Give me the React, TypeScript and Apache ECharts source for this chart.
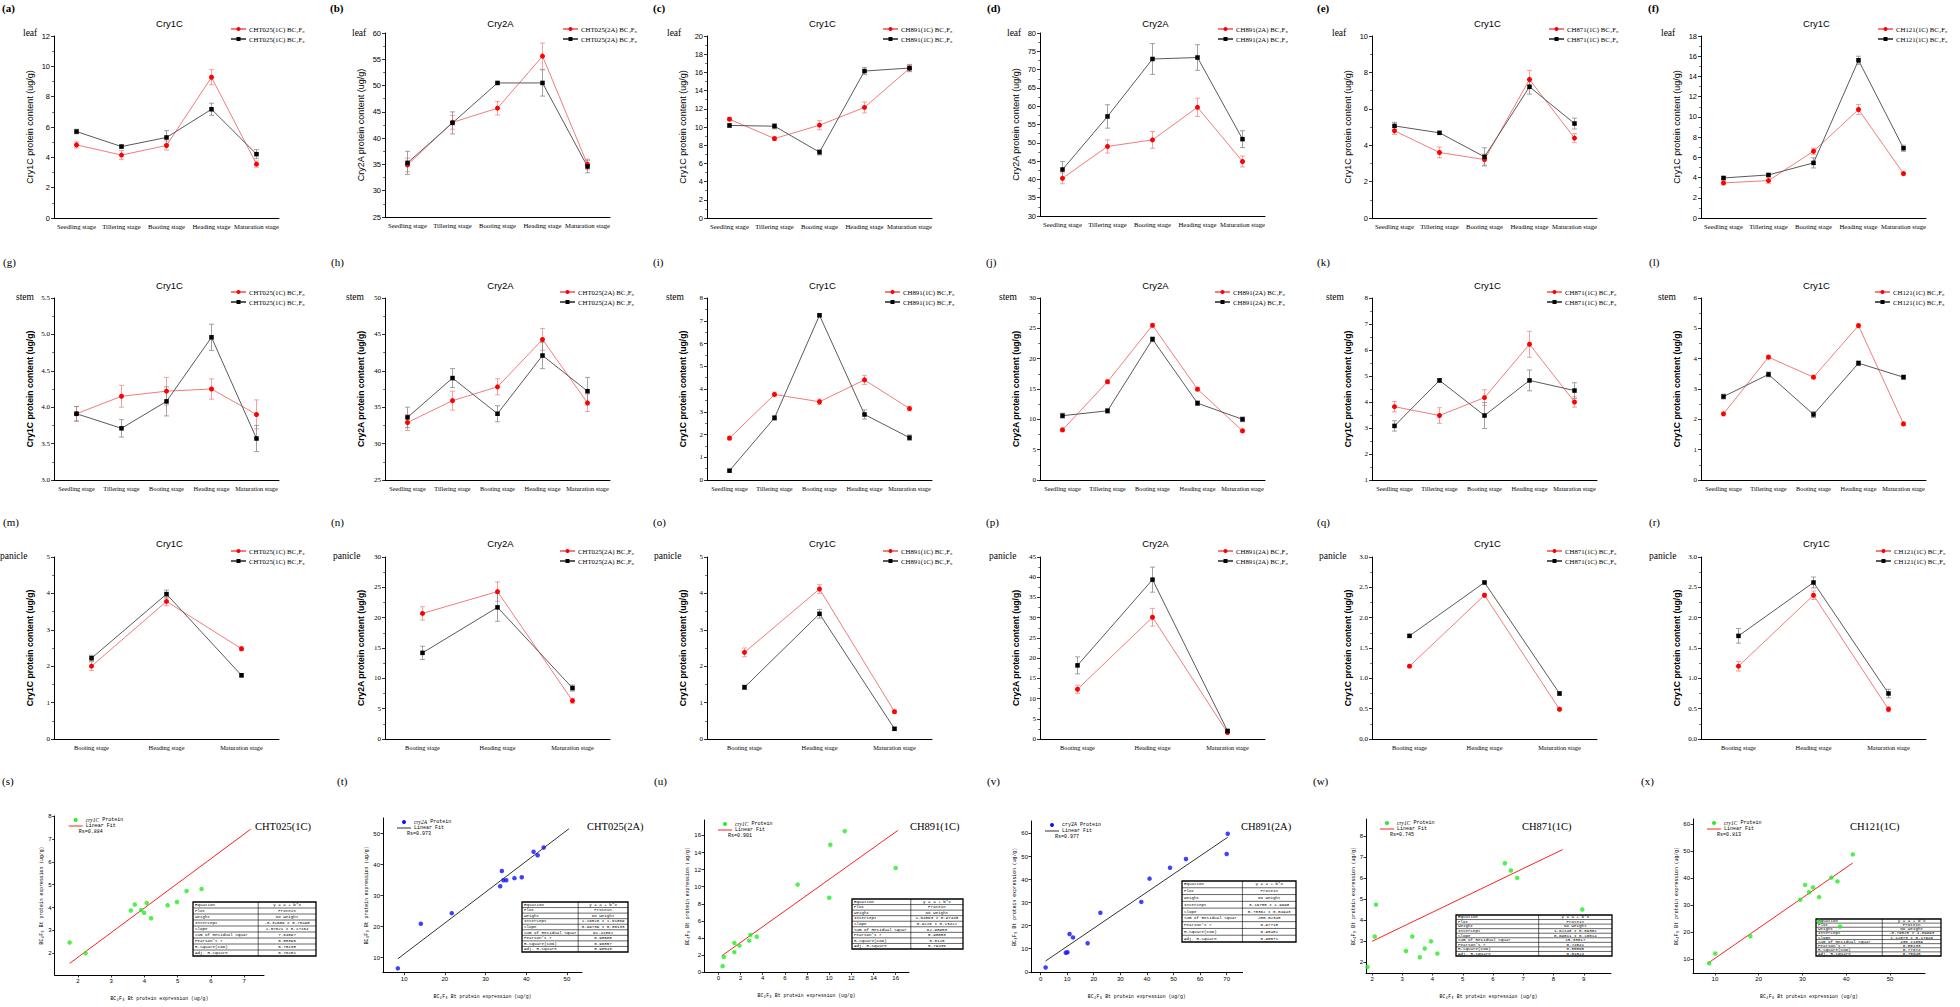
import React, { useEffect, useRef } from "react";
import * as echarts from "echarts";

const SERIF = '"Liberation Serif", "Times New Roman", serif';
const SANS = '"Liberation Sans", Arial, sans-serif';
const MONO = '"Liberation Mono", "DejaVu Sans Mono", monospace';

const stages5 = ["Seedling stage", "Tillering stage", "Booting stage", "Heading stage", "Maturation stage"];
const stages3 = ["Booting stage", "Heading stage", "Maturation stage"];

const lineCodes = ["CHT025(1C)", "CHT025(2A)", "CH891(1C)", "CH891(2A)", "CH871(1C)", "CH121(1C)"];
const lineGenes = ["Cry1C", "Cry2A", "Cry1C", "Cry2A", "Cry1C", "Cry1C"];
const organs = ["leaf", "stem", "panicle"];
const panelLetters = [
  ["a", "b", "c", "d", "e", "f"],
  ["g", "h", "i", "j", "k", "l"],
  ["m", "n", "o", "p", "q", "r"],
  ["s", "t", "u", "v", "w", "x"],
];

// ---- leaf (row 1) ----
const aRed = [4.82, 4.15, 4.78, 9.28, 3.55];
const aRedErr = [0.2, 0.3, 0.3, 0.5, 0.2];
const aBlack = [5.7, 4.71, 5.31, 7.17, 4.21];
const aBlackErr = [0.15, 0.1, 0.45, 0.4, 0.3];
const bRed = [34.9, 43.0, 45.7, 55.6, 35.0];
const bRedErr = [1.3, 1.3, 1.3, 2.5, 1.0];
const bBlack = [35.3, 42.9, 50.5, 50.5, 34.6];
const bBlackErr = [2.2, 2.1, 0.2, 2.5, 1.2];
const cRed = [10.86, 8.73, 10.2, 12.15, 16.44];
const cRedErr = [0.2, 0.2, 0.5, 0.6, 0.3];
const cBlack = [10.17, 10.09, 7.23, 16.15, 16.48];
const cBlackErr = [0.2, 0.3, 0.3, 0.4, 0.4];
const dRed = [40.3, 49.0, 50.8, 59.7, 44.9];
const dRedErr = [1.5, 1.8, 2.3, 2.5, 1.5];
const dBlack = [42.7, 57.2, 72.9, 73.3, 51.0];
const dBlackErr = [2.2, 3.2, 4.2, 3.5, 2.3];
const eRed = [4.79, 3.6, 3.21, 7.61, 4.39];
const eRedErr = [0.2, 0.3, 0.3, 0.5, 0.25];
const eBlack = [5.06, 4.68, 3.36, 7.21, 5.19];
const eBlackErr = [0.2, 0.05, 0.5, 0.4, 0.3];
const fRed = [3.47, 3.7, 6.6, 10.73, 4.39];
const fRedErr = [0.2, 0.3, 0.3, 0.5, 0.15];
const fBlack = [3.96, 4.26, 5.45, 15.6, 6.9];
const fBlackErr = [0.15, 0.1, 0.5, 0.4, 0.3];

// ---- stem (row 2) ----
const gRed = [3.91, 4.15, 4.22, 4.25, 3.9];
const gRedErr = [0.1, 0.15, 0.19, 0.14, 0.2];
const gBlack = [3.91, 3.71, 4.08, 4.96, 3.57];
const gBlackErr = [0.1, 0.12, 0.2, 0.18, 0.18];
const hRed = [32.9, 35.9, 37.8, 44.3, 35.6];
const hRedErr = [1.1, 1.3, 1.1, 1.5, 1.2];
const hBlack = [33.6, 39.0, 34.1, 42.1, 37.2];
const hBlackErr = [1.4, 1.3, 1.1, 1.8, 1.9];
const iRed = [1.84, 3.76, 3.44, 4.4, 3.14];
const iRedErr = [0.08, 0.1, 0.12, 0.2, 0.1];
const iBlack = [0.41, 2.73, 7.24, 2.88, 1.86];
const iBlackErr = [0.05, 0.1, 0.05, 0.2, 0.12];
const jRed = [8.26, 16.2, 25.5, 14.97, 8.1];
const jRedErr = [0.3, 0.3, 0.3, 0.3, 0.3];
const jBlack = [10.6, 11.4, 23.2, 12.66, 10.0];
const jBlackErr = [0.4, 0.4, 0.4, 0.4, 0.4];
const kRed = [3.82, 3.48, 4.17, 6.22, 4.0];
const kRedErr = [0.2, 0.3, 0.3, 0.5, 0.2];
const kBlack = [3.08, 4.83, 3.48, 4.83, 4.44];
const kBlackErr = [0.2, 0.07, 0.5, 0.4, 0.3];
const lRed = [2.18, 4.05, 3.39, 5.09, 1.85];
const lRedErr = [0.06, 0.06, 0.06, 0.06, 0.06];
const lBlack = [2.75, 3.48, 2.16, 3.85, 3.39];
const lBlackErr = [0.08, 0.08, 0.1, 0.08, 0.07];

// ---- panicle (row 3) ----
const mRed = [2.0, 3.78, 2.48];
const mRedErr = [0.12, 0.12, 0.05];
const mBlack = [2.22, 3.98, 1.75];
const mBlackErr = [0.08, 0.11, 0.05];
const nRed = [20.7, 24.3, 6.3];
const nRedErr = [1.1, 1.6, 0.4];
const nBlack = [14.2, 21.7, 8.4];
const nBlackErr = [1.1, 2.3, 0.5];
const oRed = [2.38, 4.12, 0.75];
const oRedErr = [0.12, 0.12, 0.05];
const oBlack = [1.42, 3.44, 0.28];
const oBlackErr = [0.06, 0.12, 0.04];
const pRed = [12.3, 30.1, 1.6];
const pRedErr = [1.0, 2.2, 0.3];
const pBlack = [18.2, 39.4, 2.0];
const pBlackErr = [2.1, 3.1, 0.3];
const qRed = [1.2, 2.37, 0.49];
const qRedErr = [0.02, 0.03, 0.02];
const qBlack = [1.7, 2.58, 0.75];
const qBlackErr = [0.02, 0.02, 0.03];
const rRed = [1.2, 2.37, 0.49];
const rRedErr = [0.08, 0.07, 0.04];
const rBlack = [1.7, 2.58, 0.75];
const rBlackErr = [0.12, 0.09, 0.07];

const redVals = [
  [aRed, bRed, cRed, dRed, eRed, fRed],
  [gRed, hRed, iRed, jRed, kRed, lRed],
  [mRed, nRed, oRed, pRed, qRed, rRed],
];
const redErrs = [
  [aRedErr, bRedErr, cRedErr, dRedErr, eRedErr, fRedErr],
  [gRedErr, hRedErr, iRedErr, jRedErr, kRedErr, lRedErr],
  [mRedErr, nRedErr, oRedErr, pRedErr, qRedErr, rRedErr],
];
const blackVals = [
  [aBlack, bBlack, cBlack, dBlack, eBlack, fBlack],
  [gBlack, hBlack, iBlack, jBlack, kBlack, lBlack],
  [mBlack, nBlack, oBlack, pBlack, qBlack, rBlack],
];
const blackErrs = [
  [aBlackErr, bBlackErr, cBlackErr, dBlackErr, eBlackErr, fBlackErr],
  [gBlackErr, hBlackErr, iBlackErr, jBlackErr, kBlackErr, lBlackErr],
  [mBlackErr, nBlackErr, oBlackErr, pBlackErr, qBlackErr, rBlackErr],
];

const yMins = [[0, 25, 0, 30, 0, 0], [3, 25, 0, 0, 1, 0], [0, 0, 0, 0, 0, 0]];
const yMaxs = [[12, 60, 20, 80, 10, 18], [5.5, 50, 8, 30, 8, 6], [5, 30, 5, 45, 3, 3]];
const ySteps = [[2, 5, 2, 5, 2, 2], [0.5, 5, 1, 5, 1, 1], [1, 5, 1, 5, 0.5, 0.5]];

// ---- scatter (row 4) ----
const sX = [1.75, 2.23, 3.59, 3.71, 3.9, 3.99, 4.07, 4.2, 4.7, 4.98, 5.27, 5.72];
const sY = [2.47, 2.0, 3.87, 4.13, 3.89, 3.77, 4.2, 3.53, 4.1, 4.24, 4.72, 4.81];
const tX = [8.45, 14.1, 21.7, 33.6, 34.0, 34.4, 35.1, 37.1, 38.9, 41.8, 42.8, 44.3];
const tY = [6.5, 20.9, 24.3, 33.0, 37.9, 34.9, 34.9, 35.6, 35.9, 44.1, 43.0, 45.5];
const uX = [0.38, 0.49, 1.44, 1.44, 1.9, 2.78, 2.89, 3.46, 7.15, 10.0, 10.1, 11.4, 16.0];
const uY = [0.72, 1.79, 3.43, 2.36, 3.12, 3.7, 4.38, 4.15, 10.25, 8.72, 14.9, 16.5, 12.2];
const vX = [1.9, 9.5, 10.1, 10.9, 12.2, 17.7, 22.5, 37.9, 41.0, 48.7, 54.7, 70.0, 70.4];
const vY = [1.85, 8.25, 8.5, 16.4, 14.9, 12.4, 25.6, 30.3, 40.4, 45.1, 48.9, 51.1, 59.9];
const wX = [1.85, 2.09, 2.13, 3.12, 3.33, 3.58, 3.74, 3.95, 4.16, 6.39, 6.59, 6.8, 8.95];
const wY = [1.79, 3.23, 4.74, 2.54, 3.23, 2.25, 2.66, 3.0, 2.42, 6.7, 6.36, 6.01, 4.51];
const xX = [8.7, 10.1, 18.1, 29.5, 30.6, 31.5, 32.4, 33.8, 33.8, 36.6, 38.0, 38.6, 41.5];
const xY = [8.6, 12.2, 18.6, 32.1, 37.6, 34.9, 36.7, 33.1, 24.0, 40.3, 38.9, 22.2, 48.9];

const scatterX = [sX, tX, uX, vX, wX, xX];
const scatterY = [sY, tY, uY, vY, wY, xY];
const scatterTitles = ["CHT025(1C)", "CHT025(2A)", "CH891(1C)", "CH891(2A)", "CH871(1C)", "CH121(1C)"];
const scatterGenes = ["cry1C", "cry2A", "cry1C", "cry2A", "cry1C", "cry1C"];
const scatterGeneItalic = [true, true, true, false, true, true];
const fitIntercepts = [-0.32609, 1.16826, 1.64063, 3.19755, 1.62148, -0.79525];
const fitSlopes = [1.07621, 0.99739, 0.9226, 0.78362, 0.69011, 1.12073];
const fitFrom = [1.75, 8.45, 0.3, 1.9, 2.0, 8.4];
const fitTo = [7.2, 50.5, 16.2, 70.4, 8.3, 41.5];
const rsValues = ["0.884", "0.973", "0.901", "0.977", "0.745", "0.813"];
const scXMin = [1.3, 4.8, -1.3, -3.6, 1.8, 5];
const scXMax = [7.6, 53.7, 17.2, 76, 9.9, 58];
const scXStep = [1, 10, 2, 10, 1, 10];
const scYMin = [1.05, 5.1, 0, -0.4, 1.5, 5];
const scYMax = [8, 55, 17.8, 65.4, 8.8, 62];
const scYStep = [1, 10, 2, 10, 1, 10];

const tableLabels = ["Equation", "Plot", "Weight", "Intercept", "Slope", "Sum of Residual Squar", "Pearson's r", "R-Square(COD)", "Adj. R-Square"];
const tableValues = [
  ["y = a + b*x", "Protein", "No Weight", "-0.32609 ± 0.76498", "1.07621 ± 0.17164", "7.64097", "0.88396", "0.78138", "0.76151"],
  ["y = a + b*x", "Protein", "No Weight", "1.16826 ± 1.61869", "0.99739 ± 0.05133", "91.41862", "0.98568", "0.96857", "0.96543"],
  ["y = a + b*x", "Protein", "No Weight", "1.64063 ± 0.97445", "0.9226 ± 0.13422", "62.98953", "0.90083", "0.8115", "0.79436"],
  ["y = a + b*x", "Protein", "No Weight", "3.19755 ± 1.9998", "0.78362 ± 0.04943", "200.02345", "0.97715", "0.95482", "0.95071"],
  ["y = a + b*x", "Protein", "No Weight", "1.62148 ± 0.89302", "0.69011 ± 0.16514", "15.33017", "0.74541", "0.55565", "0.51524"],
  ["y = a + b*x", "Protein", "No Weight", "-0.79525 ± 4.69993", "1.12073 ± 0.17946", "436.11059", "0.88133", "0.77674", "0.75645"],
];

// ---- layout ----
const COL_LEFT = [54, 385, 707, 1040, 1372, 1701];
const PLOT_W = 225;
const ROW_TOP = [[36, 33, 36, 33, 36, 36], [298, 298, 298, 298, 298, 298], [557, 557, 557, 557, 557, 557]];
const ROW_BOTTOM = [[218, 217, 218, 216, 218, 218], [480, 480, 480, 480, 480, 480], [739, 739, 739, 739, 739, 739]];
const LETTER_X = [[2, 330, 653, 987, 1317, 1648], [3, 331, 653, 986, 1317, 1649], [3, 331, 653, 986, 1317, 1649], [2, 337, 654, 987, 1313, 1641]];
const LETTER_Y = [8, 262, 522, 781];
const TITLE_Y = [23, 285, 543];
const ORGAN_X = [[23, 352, 667, 1007, 1332, 1661], [16, 346, 666, 999, 1326, 1658], [0, 333, 654, 989, 1319, 1649]];
const ORGAN_Y = [33, 297, 556];
const LEGEND_X = [[230, 562, 882, 1217, 1548, 1877], [230, 559, 884, 1214, 1546, 1874], [230, 559, 882, 1217, 1546, 1875]];
const LEGEND_Y = [25, 288, 547];
const SC_LEFT = [54.7, 383, 704, 1031, 1366, 1693];
const SC_RIGHT = [264, 582, 909, 1242.6, 1611, 1925];
const SC_TOP = [816, 818, 820, 821, 819, 819];
const SC_BOTTOM = [975, 972.7, 972.3, 972.7, 973, 973];
const SC_TITLE_X = [255, 587, 910, 1241, 1522, 1850];
const SC_TITLE_Y = 826;
const TABLE_BOX = [
  [193, 902, 123, 54],
  [522, 902, 106, 50],
  [852, 899, 111, 50],
  [1182, 881, 114, 61],
  [1456, 915, 156, 41],
  [1816, 919, 125, 37],
];

const RED = "#ff0000";
const RED_LINE = "#f37b7b";
const RED_ERR = "#f08a8a";
const BLACK = "#000000";
const BLACK_LINE = "#5a5a5a";
const BLACK_ERR = "#8a8a8a";

function txt(x: number, y: number, text: string, size: number, family: string, opts: any = {}) {
  const align = opts.align || "left";
  const vAlign = opts.vAlign || "middle";
  return {
    type: "text",
    x,
    y,
    silent: true,
    rotation: opts.rotation || 0,
    style: {
      text,
      fill: opts.fill || "#000",
      fontSize: size,
      fontFamily: family,
      fontWeight: opts.weight || "normal",
      fontStyle: opts.italic ? "italic" : "normal",
      align,
      verticalAlign: vAlign,
      textAlign: align,
      textVerticalAlign: vAlign,
      rich: opts.rich,
    },
  };
}

function errRender(color: string) {
  return (params: any, api: any) => {
    const i = api.value(0);
    const v = api.value(1);
    const e = api.value(2);
    const p1 = api.coord([i, v + e]);
    const p2 = api.coord([i, v - e]);
    const cap = 2.5;
    const st = { stroke: color, lineWidth: 0.8, fill: null };
    return {
      type: "group",
      children: [
        { type: "line", shape: { x1: p1[0], y1: p1[1], x2: p2[0], y2: p2[1] }, style: st },
        { type: "line", shape: { x1: p1[0] - cap, y1: p1[1], x2: p1[0] + cap, y2: p1[1] }, style: st },
        { type: "line", shape: { x1: p2[0] - cap, y1: p2[1], x2: p2[0] + cap, y2: p2[1] }, style: st },
      ],
    };
  };
}

function isMult(v: number, step: number) {
  const r = v / step;
  return Math.abs(r - Math.round(r)) < 1e-6;
}

function buildOption() {
  const grid: any[] = [];
  const xAxis: any[] = [];
  const yAxis: any[] = [];
  const series: any[] = [];
  const legend: any[] = [];
  const graphic: any[] = [];

  for (let row = 0; row < 3; row++) {
    for (let col = 0; col < 6; col++) {
      const gi = grid.length;
      const top = ROW_TOP[row][col];
      const bottom = ROW_BOTTOM[row][col];
      const left = COL_LEFT[col];
      grid.push({ left, top, width: PLOT_W, height: bottom - top });
      const cats = row === 2 ? stages3 : stages5;
      const step = ySteps[row][col];
      const dec = step < 1 ? 1 : 0;
      xAxis.push({
        type: "category",
        gridIndex: gi,
        data: cats,
        boundaryGap: true,
        axisLine: { onZero: false, lineStyle: { color: "#000", width: 1 } },
        axisTick: { alignWithLabel: true, length: 3, lineStyle: { color: "#000", width: 0.8 } },
        axisLabel: { interval: 0, fontFamily: SERIF, fontSize: row === 0 ? 6.7 : 6.3, color: "#000", margin: 5 },
        splitLine: { show: false },
      });
      yAxis.push({
        type: "value",
        gridIndex: gi,
        min: yMins[row][col],
        max: yMaxs[row][col],
        interval: step,
        axisLine: { show: true, onZero: false, lineStyle: { color: "#000", width: 1 } },
        axisTick: { show: true, length: 3, lineStyle: { color: "#000", width: 0.8 } },
        minorTick: { show: true, splitNumber: 2, length: 1.8, lineStyle: { color: "#000", width: 0.6 } },
        splitLine: { show: false },
        axisLabel: {
          fontFamily: row === 0 ? SANS : SERIF,
          fontSize: row === 0 ? 7.5 : 7,
          color: "#000",
          margin: 4,
          formatter: (v: number) => v.toFixed(dec),
        },
        name: lineGenes[col] + " protein content (ug/g)",
        nameLocation: "middle",
        nameRotate: 90,
        nameGap: 20,
        nameTextStyle: {
          fontFamily: SANS,
          fontSize: row === 0 ? 9 : 8.6,
          fontWeight: row === 0 ? "normal" : "bold",
          color: "#000",
        },
      });
      const redName = lineCodes[col] + " BC\u2084F\u2088";
      const blackName = lineCodes[col] + " BC\u2084F\u2089";
      const rv = redVals[row][col];
      const re = redErrs[row][col];
      const bv = blackVals[row][col];
      const be = blackErrs[row][col];
      series.push({
        type: "custom",
        name: "err-red-" + gi,
        xAxisIndex: gi,
        yAxisIndex: gi,
        silent: true,
        z: 1,
        encode: { x: 0, y: 1 },
        data: rv.map((v, i) => [i, v, re[i]]),
        renderItem: errRender(RED_ERR),
      });
      series.push({
        type: "custom",
        name: "err-black-" + gi,
        xAxisIndex: gi,
        yAxisIndex: gi,
        silent: true,
        z: 1,
        encode: { x: 0, y: 1 },
        data: bv.map((v, i) => [i, v, be[i]]),
        renderItem: errRender(BLACK_ERR),
      });
      series.push({
        type: "line",
        name: redName,
        xAxisIndex: gi,
        yAxisIndex: gi,
        data: rv,
        symbol: "circle",
        symbolSize: 5,
        itemStyle: { color: RED },
        lineStyle: { color: RED_LINE, width: 1 },
        z: 3,
      });
      series.push({
        type: "line",
        name: blackName,
        xAxisIndex: gi,
        yAxisIndex: gi,
        data: bv,
        symbol: "rect",
        symbolSize: 4.5,
        itemStyle: { color: BLACK },
        lineStyle: { color: BLACK_LINE, width: 1 },
        z: 3,
      });
      legend.push({
        left: LEGEND_X[row][col],
        top: LEGEND_Y[row],
        orient: "vertical",
        padding: 0,
        itemGap: 2,
        itemWidth: 15,
        itemHeight: 5,
        selectedMode: false,
        data: [redName, blackName],
        textStyle: { fontFamily: SERIF, fontSize: 6.8, color: "#000", lineHeight: 8, padding: [0, 0, 0, -2] },
      });
      graphic.push(
        txt(LETTER_X[row][col], LETTER_Y[row], "(" + panelLetters[row][col] + ")", 11, SERIF, {
          weight: row === 0 ? "bold" : "normal",
        })
      );
      graphic.push(txt(left + PLOT_W / 2 + 3, TITLE_Y[row], lineGenes[col], 9.5, SANS, { align: "center" }));
      graphic.push(txt(ORGAN_X[row][col], ORGAN_Y[row], organs[row], 9.5, SERIF));
    }
  }

  for (let k = 0; k < 6; k++) {
    const gi = grid.length;
    const left = SC_LEFT[k];
    const top = SC_TOP[k];
    grid.push({ left, top, width: SC_RIGHT[k] - left, height: SC_BOTTOM[k] - top });
    xAxis.push({
      type: "value",
      gridIndex: gi,
      min: scXMin[k],
      max: scXMax[k],
      minInterval: scXStep[k],
      maxInterval: scXStep[k],
      splitNumber: 6,
      axisLine: { onZero: false, lineStyle: { color: "#000", width: 1 } },
      axisTick: { length: 2.5, lineStyle: { color: "#000", width: 0.8 } },
      splitLine: { show: false },
      axisLabel: {
        fontFamily: SANS,
        fontSize: 6,
        color: "#000",
        margin: 3,
        showMinLabel: isMult(scXMin[k], scXStep[k]),
        showMaxLabel: isMult(scXMax[k], scXStep[k]),
      },
      name: "BC\u2084F\u2088 Bt protein expression (ug/g)",
      nameLocation: "middle",
      nameGap: 21,
      nameTextStyle: { fontFamily: MONO, fontSize: 4.8, color: "#000" },
    });
    yAxis.push({
      type: "value",
      gridIndex: gi,
      min: scYMin[k],
      max: scYMax[k],
      minInterval: scYStep[k],
      maxInterval: scYStep[k],
      splitNumber: 6,
      axisLine: { show: true, onZero: false, lineStyle: { color: "#000", width: 1 } },
      axisTick: { show: true, length: 2.5, lineStyle: { color: "#000", width: 0.8 } },
      splitLine: { show: false },
      axisLabel: {
        fontFamily: SANS,
        fontSize: 6,
        color: "#000",
        margin: 3,
        showMinLabel: isMult(scYMin[k], scYStep[k]),
        showMaxLabel: isMult(scYMax[k], scYStep[k]),
      },
      name: "BC\u2084F\u2089 Bt protein expression (ug/g)",
      nameLocation: "middle",
      nameRotate: 90,
      nameGap: 9,
      nameTextStyle: { fontFamily: MONO, fontSize: 4.8, color: "#000" },
    });
    const isRedFit = scatterGenes[k] === "cry1C";
    const dotColor = isRedFit ? "#22ee22" : "#1010ff";
    const fitColor = isRedFit ? "#ff2020" : "#333333";
    const xs = scatterX[k];
    const ys = scatterY[k];
    const a = fitIntercepts[k];
    const b = fitSlopes[k];
    series.push({
      type: "line",
      name: "Linear Fit",
      xAxisIndex: gi,
      yAxisIndex: gi,
      symbol: "none",
      silent: true,
      z: 2,
      lineStyle: { color: fitColor, width: 1 },
      data: [
        [fitFrom[k], a + b * fitFrom[k]],
        [fitTo[k], a + b * fitTo[k]],
      ],
    });
    series.push({
      type: "scatter",
      name: scatterGenes[k] + " Protein",
      xAxisIndex: gi,
      yAxisIndex: gi,
      symbol: "circle",
      symbolSize: 4.5,
      z: 3,
      itemStyle: { color: dotColor },
      data: xs.map((x, i) => [x, ys[i]]),
    });

    graphic.push(txt(LETTER_X[3][k], LETTER_Y[3], "(" + panelLetters[3][k] + ")", 11, SERIF));
    graphic.push(txt(SC_TITLE_X[k], SC_TITLE_Y, scatterTitles[k], 10.5, SERIF));

    const mx = left + 21;
    const y1 = top + 4;
    const y2 = top + 10;
    const y3 = top + 16;
    graphic.push({ type: "circle", silent: true, shape: { cx: mx, cy: y1, r: 2 }, style: { fill: dotColor } });
    graphic.push({
      type: "line",
      silent: true,
      shape: { x1: mx - 7, y1: y2, x2: mx + 7, y2: y2 },
      style: { stroke: fitColor, lineWidth: 1 },
    });
    graphic.push(
      txt(mx + 10, y1, (scatterGeneItalic[k] ? "{i|" + scatterGenes[k] + "}" : scatterGenes[k]) + " Protein", 5, MONO, {
        rich: { i: { fontStyle: "italic", fontFamily: SERIF, fontSize: 5.5 } },
      })
    );
    graphic.push(txt(mx + 10, y2, "Linear Fit", 5, MONO));
    graphic.push(txt(mx + 3, y3, "Rs=" + rsValues[k], 5, MONO));

    const [tx, ty, tw, th] = TABLE_BOX[k];
    const n = tableLabels.length;
    const rh = th / n;
    const c1 = tw * 0.53;
    graphic.push({
      type: "rect",
      silent: true,
      shape: { x: tx, y: ty, width: tw, height: th },
      style: { fill: "#fff", stroke: "#000", lineWidth: 1.3 },
    });
    for (let r = 1; r < n; r++) {
      graphic.push({
        type: "line",
        silent: true,
        shape: { x1: tx, y1: ty + r * rh, x2: tx + tw, y2: ty + r * rh },
        style: { stroke: "#000", lineWidth: 0.6 },
      });
    }
    graphic.push({
      type: "line",
      silent: true,
      shape: { x1: tx + c1, y1: ty, x2: tx + c1, y2: ty + th },
      style: { stroke: "#000", lineWidth: 0.6 },
    });
    for (let r = 0; r < n; r++) {
      const cy = ty + r * rh + rh / 2;
      graphic.push(txt(tx + 2, cy, tableLabels[r], 4.2, MONO));
      graphic.push(txt(tx + c1 + (tw - c1) / 2, cy, tableValues[k][r], 4.2, MONO, { align: "center" }));
    }
  }

  return {
    animation: false,
    backgroundColor: "#ffffff",
    grid,
    xAxis,
    yAxis,
    series,
    legend,
    graphic: { elements: graphic },
  };
}

export default function App() {
  const ref = useRef<HTMLDivElement>(null);
  useEffect(() => {
    document.body.style.margin = "0";
    const chart = echarts.init(ref.current as HTMLDivElement, null, { renderer: "svg" });
    chart.setOption(buildOption() as any);
    return () => chart.dispose();
  }, []);
  return (
    <div
      ref={ref}
      style={{ position: "absolute", left: 0, top: 0, width: 1960, height: 1007, background: "#fff" }}
    />
  );
}
